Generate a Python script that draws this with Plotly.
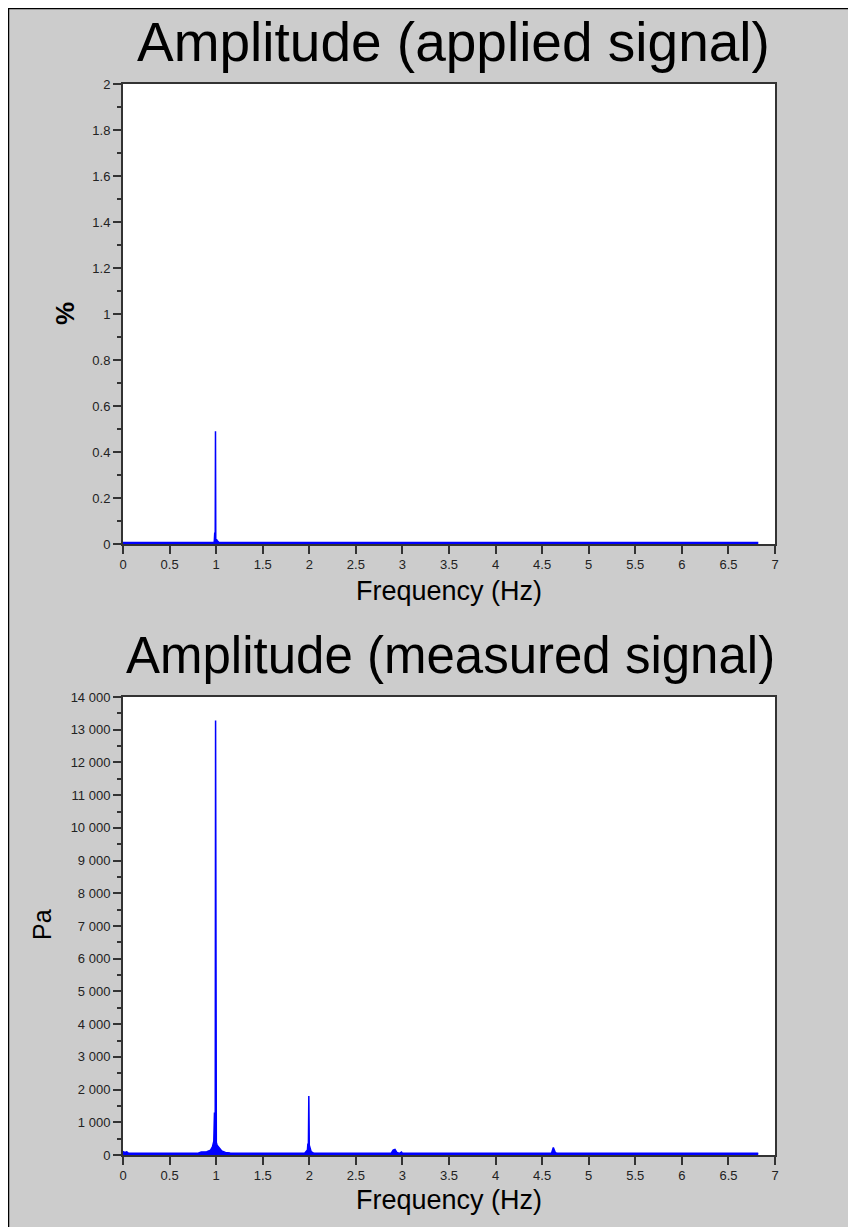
import plotly.graph_objects as go

# ---- data ----
freq_applied = [0.0, 0.02, 0.97, 0.98, 0.985, 0.99, 0.993, 0.996, 1.0, 1.004, 1.01, 1.02, 1.03, 1.06, 6.82]
amp_applied = [0.006, 0.006, 0.006, 0.01, 0.05, 0.015, 0.49, 0.015, 0.012, 0.02, 0.015, 0.008, 0.006, 0.006, 0.006]

freq_measured = [0.0, 0.005, 0.02, 0.04, 0.06, 0.8, 0.84, 0.9, 0.94, 0.96, 0.975, 0.982, 0.986,
                 0.99, 0.994, 0.998, 1.002, 1.01, 1.03, 1.06, 1.1, 1.15,
                 1.95, 1.97, 1.98, 1.985, 1.99, 1.995, 2.0, 2.02, 2.05,
                 2.88, 2.9, 2.92, 2.94, 2.97, 2.99, 3.0, 3.01,
                 4.6, 4.62, 4.625, 4.64, 4.66, 6.82]
amp_measured = [0, 100, 80, 100, 50, 50, 90, 100, 150, 250, 420, 1300, 400,
                380, 13280, 420, 380, 300, 220, 120, 80, 60,
                50, 100, 150, 350, 120, 1800, 300, 100, 50,
                60, 150, 170, 80, 50, 90, 50, 50,
                50, 230, 180, 80, 50, 50]

x_ticks = [0, 0.5, 1, 1.5, 2, 2.5, 3, 3.5, 4, 4.5, 5, 5.5, 6, 6.5, 7]

title_top = "Amplitude (applied signal)"
title_bottom = "Amplitude (measured signal)"
x_label = "Frequency (Hz)"
y_label_top = "%"
y_label_bottom = "Pa"

# ---- figure geometry (page has an 8px body margin) ----
OFF = 8
W, H = 856 - OFF, 1227 - OFF
ML, MR, MT, MB = 123 - OFF, 81, 84 - OFF, 72
PW, PH = W - ML - MR, H - MT - MB


def px_x(x):  # reference-page pixel -> paper coordinate
    return (x - OFF - ML) / PW


def px_y(y):
    return (H - MB - (y - OFF)) / PH


BLUE = "#0000ff"
AX = "#333333"
FONT = "Liberation Sans, Arial, sans-serif"

fig = go.Figure()
fig.add_trace(go.Scatter(x=freq_applied, y=amp_applied, mode="lines",
                         line=dict(color=BLUE, width=1.5), fill="tozeroy",
                         fillcolor=BLUE, xaxis="x", yaxis="y", showlegend=False,
                         hoverinfo="skip"))
fig.add_trace(go.Scatter(x=freq_measured, y=amp_measured, mode="lines",
                         line=dict(color=BLUE, width=1.5), fill="tozeroy",
                         fillcolor=BLUE, xaxis="x2", yaxis="y2", showlegend=False,
                         hoverinfo="skip"))

top_dom = [px_y(544), 1.0]
bot_dom = [0.0, px_y(697)]

tickfont = dict(size=13, color="#222222", family=FONT)
xcommon = dict(range=[0, 7], tickvals=x_ticks, ticks="outside", ticklen=8,
               tickwidth=1.5, tickcolor=AX, showline=True, linecolor=AX,
               linewidth=1.5, mirror=True, showgrid=False, zeroline=False,
               tickfont=tickfont)
ycommon = dict(ticks="outside", ticklen=8, tickwidth=1.5, tickcolor=AX,
               showline=True, linecolor=AX, linewidth=2, mirror=True,
               showgrid=False, zeroline=False, tickfont=tickfont)

fig.update_layout(
    width=W, height=H,
    margin=dict(l=ML, r=MR, t=MT, b=MB),
    paper_bgcolor="#cccccc",
    plot_bgcolor="white",
    separators=". ",
    font=dict(family=FONT, color="black"),
    xaxis=dict(domain=[0, 1], anchor="y", **xcommon),
    yaxis=dict(domain=top_dom, anchor="x", range=[0, 2], dtick=0.2,
               minor=dict(dtick=0.1, ticks="outside", ticklen=4, tickcolor=AX, tickwidth=1.5),
               **ycommon),
    xaxis2=dict(domain=[0, 1], anchor="y2", **xcommon),
    yaxis2=dict(domain=bot_dom, anchor="x2", range=[0, 14000], dtick=1000,
                tickformat=",d",
                minor=dict(dtick=500, ticks="outside", ticklen=4, tickcolor=AX, tickwidth=1.5),
                **ycommon),
)

# frame lines on left and top of the figure window
fig.add_shape(type="line", xref="paper", yref="paper",
              x0=px_x(OFF + 0.5), x1=px_x(OFF + 0.5), y0=px_y(1240), y1=px_y(OFF),
              line=dict(color="black", width=1.5))
fig.add_shape(type="line", xref="paper", yref="paper",
              x0=px_x(OFF), x1=px_x(860), y0=px_y(OFF + 0.5), y1=px_y(OFF + 0.5),
              line=dict(color="black", width=1.5))

ann = [
    dict(text=title_top, x=px_x(454), y=px_y(42), size=55, rot=0, bold=False),
    dict(text=title_bottom, x=px_x(450), y=px_y(655), size=51, rot=0, bold=False),
    dict(text=x_label, x=px_x(449), y=px_y(591), size=27, rot=0, bold=False),
    dict(text=x_label, x=px_x(449), y=px_y(1200), size=27, rot=0, bold=False),
    dict(text=y_label_top, x=px_x(65), y=px_y(314), size=26, rot=-90, bold=True),
    dict(text=y_label_bottom, x=px_x(42), y=px_y(925), size=25, rot=-90, bold=False),
]
for a in ann:
    fig.add_annotation(text=("<b>%s</b>" % a["text"]) if a["bold"] else a["text"],
                       x=a["x"], y=a["y"], xref="paper", yref="paper",
                       xanchor="center", yanchor="middle", showarrow=False,
                       textangle=a["rot"],
                       font=dict(size=a["size"], color="black", family=FONT))

fig.write_html("out.html")
